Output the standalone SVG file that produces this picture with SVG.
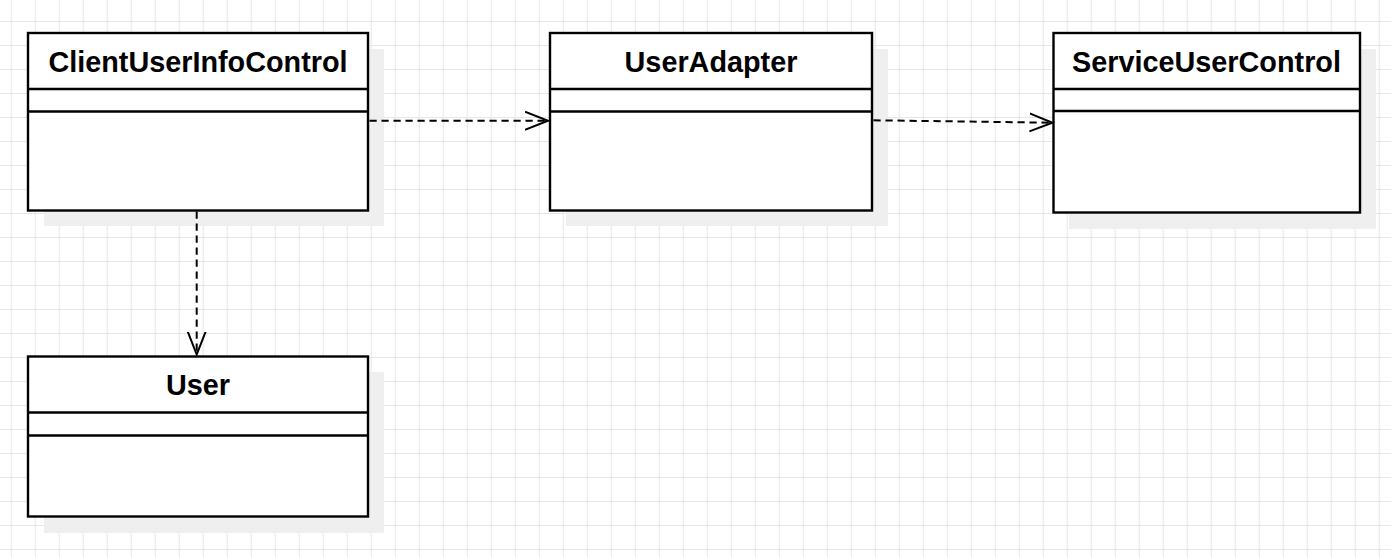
<svg xmlns="http://www.w3.org/2000/svg" width="1391" height="557" viewBox="0 0 1391 557">
<defs>
<pattern id="grid" x="10.7" y="21" width="24" height="24" patternUnits="userSpaceOnUse">
<path d="M0 0.5H24M0.5 0V24" fill="none" stroke="#e6e6e6" stroke-width="1"/>
</pattern>
<marker id="open" markerWidth="30" markerHeight="24" refX="23" refY="10" orient="auto" markerUnits="userSpaceOnUse">
<path d="M0 1L23 10L0 19" fill="none" stroke="#000" stroke-width="2"/>
</marker>
</defs>
<style>
.shadow{fill:#efefef}
.box{fill:#fff;stroke:#000;stroke-width:2.4}
.sep{stroke:#000;stroke-width:2.4}
.title{font-family:"Liberation Sans",Arial,sans-serif;font-weight:bold;font-size:28.8px;text-anchor:middle;fill:#000}
.dep{fill:none;stroke:#000;stroke-width:2;stroke-dasharray:7.2 4.8}
</style>
<rect width="1391" height="557" fill="#fff"/>
<rect width="1391" height="557" fill="url(#grid)"/>

<g id="ClientUserInfoControl">
<rect class="shadow" x="44" y="49" width="340" height="177"/>
<rect class="box" x="28" y="33" width="340" height="177.5"/>
<line class="sep" x1="28" y1="89" x2="368" y2="89"/>
<line class="sep" x1="28" y1="111.5" x2="368" y2="111.5"/>
<text class="title" x="198" y="71.5">ClientUserInfoControl</text>
</g>

<g id="UserAdapter">
<rect class="shadow" x="566" y="49" width="322" height="177"/>
<rect class="box" x="550" y="33" width="322" height="177.5"/>
<line class="sep" x1="550" y1="89" x2="872" y2="89"/>
<line class="sep" x1="550" y1="111.5" x2="872" y2="111.5"/>
<text class="title" x="711" y="71.5">UserAdapter</text>
</g>

<g id="ServiceUserControl">
<rect class="shadow" x="1069" y="49" width="307" height="180"/>
<rect class="box" x="1053.5" y="33" width="306.5" height="179.5"/>
<line class="sep" x1="1053.5" y1="89" x2="1360" y2="89"/>
<line class="sep" x1="1053.5" y1="111" x2="1360" y2="111"/>
<text class="title" x="1206.5" y="71.5">ServiceUserControl</text>
</g>

<g id="User">
<rect class="shadow" x="44" y="372" width="340" height="161"/>
<rect class="box" x="28" y="356.5" width="340" height="160"/>
<line class="sep" x1="28" y1="412.5" x2="368" y2="412.5"/>
<line class="sep" x1="28" y1="435.5" x2="368" y2="435.5"/>
<text class="title" x="198" y="395">User</text>
</g>

<g id="connectors">
<path class="dep" d="M369.5 120.7H548" marker-end="url(#open)"/>
<path class="dep" d="M873.5 120.3L1052.5 122.7" marker-end="url(#open)"/>
<path class="dep" d="M196.7 211.5V354.5" marker-end="url(#open)"/>
</g>
</svg>
